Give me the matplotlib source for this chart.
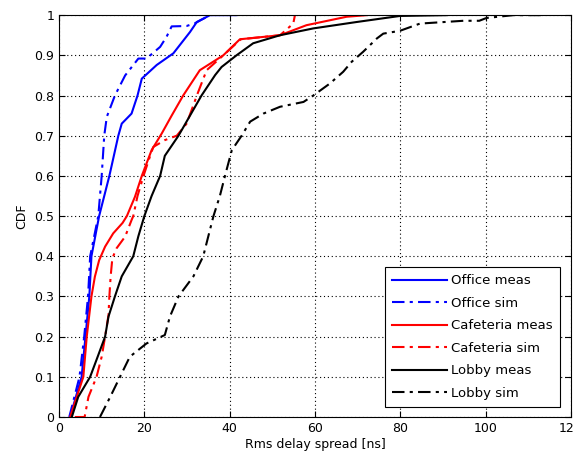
import matplotlib
matplotlib.use("Agg")
import matplotlib.pyplot as plt

# Office measured
office_meas_x = [2.6, 5.3, 6.2, 7.1, 7.6, 9.4, 11.8, 13.9, 14.7, 17.0, 18.4, 19.4, 22.9, 26.8, 30.7, 32.3, 35.4, 41.6]
office_meas_y = [0.0, 0.1, 0.2, 0.3, 0.4, 0.5, 0.6, 0.7, 0.73, 0.755, 0.8, 0.842, 0.876, 0.905, 0.958, 0.983, 1.0, 1.0]
# Office simulated
office_sim_x = [2.4, 4.8, 5.9, 6.8, 7.3, 9.2, 10.0, 10.6, 11.2, 13.1, 15.5, 18.6, 20.5, 23.7, 25.2, 26.4, 29.9, 31.9, 35.4]
office_sim_y = [0.0, 0.1, 0.2, 0.3, 0.4, 0.5, 0.6, 0.7, 0.747, 0.8, 0.85, 0.892, 0.892, 0.921, 0.946, 0.972, 0.973, 0.98, 1.0]
# Cafeteria measured
caf_meas_x = [2.6, 5.7, 6.5, 7.6, 8.4, 9.4, 10.8, 12.7, 14.9, 15.9, 17.8, 19.4, 21.7, 24.1, 26.4, 29.1, 33.0, 38.5, 42.4, 51.8, 58.0, 67.4, 72.1]
caf_meas_y = [0.0, 0.1, 0.2, 0.3, 0.349, 0.39, 0.424, 0.457, 0.483, 0.5, 0.548, 0.6, 0.664, 0.706, 0.75, 0.8, 0.863, 0.9, 0.94, 0.95, 0.975, 0.996, 1.0]
# Cafeteria simulated
caf_sim_x = [3.7, 6.0, 6.9, 8.8, 10.0, 10.8, 11.6, 11.8, 12.1, 12.5, 13.5, 15.5, 17.0, 17.4, 18.4, 19.8, 21.3, 22.1, 24.8, 27.6, 29.9, 31.5, 32.3, 34.6, 38.5, 42.6, 51.8, 54.9, 55.3]
caf_sim_y = [0.0, 0.0, 0.05, 0.1, 0.15, 0.2, 0.254, 0.3, 0.35, 0.395, 0.42, 0.449, 0.49, 0.5, 0.55, 0.6, 0.648, 0.672, 0.689, 0.70, 0.73, 0.776, 0.8, 0.863, 0.9, 0.94, 0.95, 0.979, 1.0]
# Lobby measured
lobby_meas_x = [3.0, 4.5, 7.3, 9.2, 10.8, 11.6, 13.1, 14.7, 17.4, 18.6, 20.0, 21.7, 23.7, 24.8, 28.0, 30.7, 33.4, 36.6, 38.1, 41.6, 45.5, 51.8, 59.6, 69.8, 79.9, 90.9]
lobby_meas_y = [0.0, 0.05, 0.1, 0.154, 0.2, 0.25, 0.3, 0.35, 0.4, 0.45, 0.5, 0.55, 0.6, 0.65, 0.7, 0.75, 0.8, 0.851, 0.871, 0.9, 0.93, 0.95, 0.967, 0.983, 0.998, 1.0]
# Lobby simulated
lobby_sim_x = [9.6, 12.0, 14.3, 16.6, 20.5, 24.8, 26.0, 28.0, 31.5, 33.8, 35.0, 36.2, 37.7, 38.9, 40.5, 42.8, 44.8, 47.9, 51.8, 57.3, 59.6, 63.5, 66.6, 68.6, 71.3, 74.5, 76.0, 79.9, 84.6, 94.8, 98.5, 100.2, 106.5, 113.0]
lobby_sim_y = [0.0, 0.05, 0.1, 0.15, 0.183, 0.204, 0.25, 0.3, 0.35, 0.4, 0.45, 0.5, 0.55, 0.6, 0.664, 0.7, 0.735, 0.755, 0.772, 0.784, 0.8, 0.83, 0.859, 0.884, 0.909, 0.942, 0.954, 0.961, 0.979, 0.986, 0.986, 0.993, 1.0, 1.0]

x_ticks = [0, 20, 40, 60, 80, 100, 120]
y_ticks = [0, 0.1, 0.2, 0.3, 0.4, 0.5, 0.6, 0.7, 0.8, 0.9, 1]
y_tick_labels = ["0", "0.1", "0.2", "0.3", "0.4", "0.5", "0.6", "0.7", "0.8", "0.9", "1"]

fig = plt.figure(figsize=(5.73, 4.59), dpi=100)
ax = fig.add_axes([0.103, 0.0915, 0.8935, 0.8755])

dashdot = (0, (6, 2.5, 1.5, 2.5))
lw = 1.5
ax.plot(office_meas_x, office_meas_y, color="#0000ff", lw=lw, label="Office meas")
ax.plot(office_sim_x, office_sim_y, color="#0000ff", lw=lw, linestyle=dashdot, label="Office sim")
ax.plot(caf_meas_x, caf_meas_y, color="#ff0000", lw=lw, label="Cafeteria meas")
ax.plot(caf_sim_x, caf_sim_y, color="#ff0000", lw=lw, linestyle=dashdot, label="Cafeteria sim")
ax.plot(lobby_meas_x, lobby_meas_y, color="black", lw=lw, label="Lobby meas")
ax.plot(lobby_sim_x, lobby_sim_y, color="black", lw=lw, linestyle=dashdot, label="Lobby sim")

ax.set_xlim(0, 120)
ax.set_ylim(0, 1)
ax.set_xticks(x_ticks)
ax.set_yticks(y_ticks)
ax.set_yticklabels(y_tick_labels)
ax.tick_params(direction="in", top=True, right=True, labelsize=9, length=4)
ax.grid(True, color="black", linestyle=(0, (1, 2.5)), linewidth=0.8)
ax.set_xlabel("Rms delay spread [ns]", fontsize=9, labelpad=2)
ax.set_ylabel("CDF", fontsize=9, labelpad=4)

leg = ax.legend(loc="lower right", bbox_to_anchor=(0.979, 0.025), fontsize=9.5,
                frameon=True, fancybox=False, edgecolor="black", framealpha=1,
                handlelength=4.2, handletextpad=0.3, borderpad=0.55, labelspacing=0.72,
                borderaxespad=0)
leg.get_frame().set_linewidth(0.8)

fig.savefig("out.png", dpi=100)
